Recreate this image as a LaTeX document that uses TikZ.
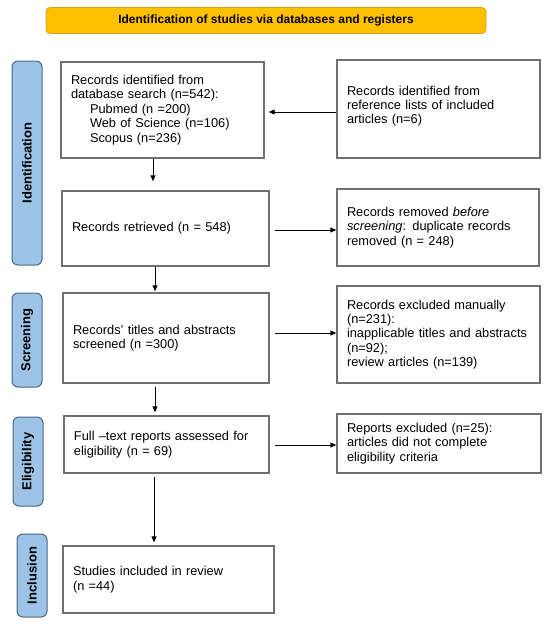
\documentclass[tikz,border=0pt]{standalone}
\usepackage{fontspec}
\setmainfont{Liberation Sans}
\usetikzlibrary{arrows.meta,calc}
\definecolor{gold}{HTML}{FFC000}
\definecolor{goldline}{HTML}{D9A21B}
\definecolor{phase}{HTML}{9DC3E6}
\definecolor{phaseline}{HTML}{4A6784}
\definecolor{boxline}{HTML}{707070}
\begin{document}
\begin{tikzpicture}[x=1pt,y=-1pt,
  box/.style={draw=boxline,line width=1.4pt,rectangle,inner xsep=10pt,inner ysep=2pt,align=left,font=\fontsize{12.8}{14.4}\selectfont},
  phasebox/.style={draw=phaseline,fill=phase,line width=1pt,rounded corners=6pt,rotate=90,inner sep=0pt,minimum height=30pt,font=\fontsize{13}{15}\selectfont\bfseries},
  arr/.style={-{Triangle[length=6pt,width=5pt]},line width=0.9pt}]
\useasboundingbox (0,0) rectangle (550,625);

% title
\node[draw=goldline,fill=gold,line width=0.8pt,rounded corners=4pt,minimum width=440pt,minimum height=26pt,inner sep=0pt,font=\fontsize{12}{14}\selectfont\bfseries] (title) at (266,20.5) {Identification of studies via databases and registers};

% phases
\node[phasebox,minimum width=204pt] (pid) at (27,163) {Identification};
\node[phasebox,minimum width=94pt] (pscr) at (27,340) {Screening};
\node[phasebox,minimum width=89pt] (pel) at (28,461.5) {Eligibility};
\node[phasebox,minimum width=83pt] (pinc) at (32,575.5) {Inclusion};

% left column
\node[box,text width=183pt,minimum height=96pt] (b1) at (162.5,110) {Records identified from\\database search (n=542):\\\hspace*{19pt}Pubmed (n =200)\\\hspace*{19pt}Web of Science (n=106)\\\hspace*{19pt}Scopus (n=236)};
\node[box,text width=187pt,minimum height=75pt] (b2) at (165.5,228.5) {Records retrieved (n = 548)};
\node[box,text width=186pt,minimum height=90pt] (b3) at (166,338) {Records’ titles and abstracts\\screened (n =300)};
\node[box,text width=185pt,minimum height=57pt] (b4) at (166.5,444.5) {Full –text reports assessed for\\eligibility (n = 69)};
\node[box,text width=191pt,minimum height=67pt] (b5) at (168.5,579.5) {Studies included in review\\{}(n =44)};

% right column
\node[box,text width=183pt,minimum height=98pt] (r1) at (438.5,109) {Records identified from\\reference lists of included\\articles (n=6)\\[-6pt]\mbox{}};
\node[box,text width=182pt,minimum height=77pt] (r2) at (438,227.5) {Records removed \textit{before}\\\textit{screening}: duplicate records\\removed (n = 248)};
\node[box,text width=183pt,minimum height=97pt] (r3) at (438.5,334.5) {Records excluded manually\\{}(n=231):\\inapplicable titles and abstracts\\{}(n=92);\\review articles (n=139)};
\node[box,text width=184pt,minimum height=59pt] (r4) at (439,443.5) {Reports excluded (n=25):\\articles did not complete\\eligibility criteria};

% arrows
\coordinate (a1) at (153,0);
\coordinate (a2) at (155,0);
\coordinate (a3) at (154,0);
\coordinate (h1) at (0,112);
\coordinate (h2) at (0,230);
\coordinate (h3) at (0,333);
\coordinate (h4) at (0,445);
\draw[arr,shorten >=4pt] (r1.west |- h1) -- (b1.east |- h1);
\draw[arr,shorten >=1pt] (b1.south -| a1) -- ([yshift=8pt]b2.north -| a1);
\draw[arr,shorten <=5pt] (b2.east |- h2) -- (r2.west |- h2);
\draw[arr,shorten >=1pt] (b2.south -| a2) -- (b3.north -| a2);
\draw[arr,shorten <=5pt] (b3.east |- h3) -- (r3.west |- h3);
\draw[arr,shorten <=3pt,shorten >=3pt] (b3.south -| a2) -- (b4.north -| a2);
\draw[arr,shorten <=5pt] (b4.east |- h4) -- (r4.west |- h4);
\draw[arr,shorten <=3pt,shorten >=3pt] (b4.south -| a3) -- (b5.north -| a3);
\end{tikzpicture}
\end{document}
